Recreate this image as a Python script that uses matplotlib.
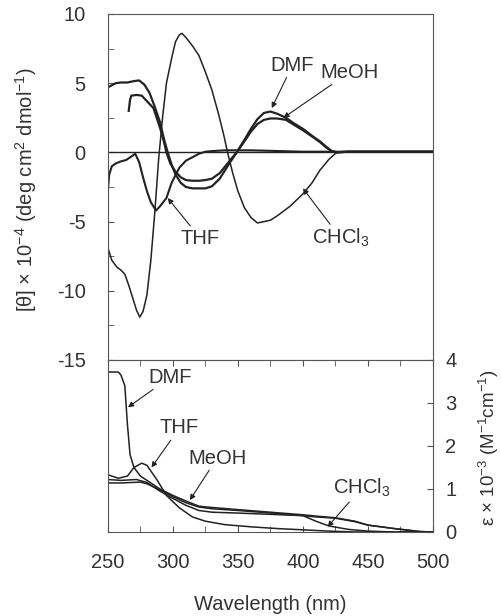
import matplotlib.pyplot as plt
from matplotlib.ticker import MultipleLocator

plt.rcParams['font.family'] = ['Liberation Sans', 'DejaVu Sans']
plt.rcParams['mathtext.default'] = 'regular'
plt.rcParams['axes.unicode_minus'] = False

# CD spectra, [theta] x 10^-4
wl_meoh = [250, 253, 256, 260, 265, 270, 274, 278, 282, 286, 290, 293, 296, 299, 302, 306, 310, 315,
           320, 325, 330, 336, 342, 349, 355, 360, 365, 370, 375, 380, 387, 393, 400, 407, 413, 418,
           422, 426, 435, 450, 500]
cd_meoh = [4.7, 4.85, 5.0, 5.05, 5.05, 5.15, 5.2, 4.9, 4.3, 3.3, 2.2, 1.0, 0.0, -0.9, -1.6, -2.2, -2.5, -2.6,
           -2.6, -2.6, -2.45, -1.9, -1.0, 0.0, 0.8, 1.5, 2.05, 2.35, 2.45, 2.45, 2.35, 2.0, 1.6, 1.15, 0.75, 0.35,
           0.1, 0.0, 0.05, 0.05, 0.05]

wl_dmf = [266, 267, 268, 272, 276, 280, 285, 290, 293, 295, 298, 302, 306, 310, 315, 320, 325, 330,
          336, 342, 349, 355, 360, 365, 370, 375, 380, 387, 393, 400, 407, 413, 418, 422, 426, 435, 450, 500]
cd_dmf = [3.0, 3.8, 4.1, 4.15, 4.1, 3.7, 3.2, 1.8, 0.8, 0.0, -0.8, -1.4, -1.8, -2.0, -2.05, -2.05, -2.0, -1.9,
          -1.5, -0.8, 0.0, 0.9, 1.7, 2.4, 2.85, 2.95, 2.8, 2.5, 2.1, 1.7, 1.2, 0.8, 0.4, 0.1, 0.0, 0.05, 0.05, 0.05]

wl_thf = [250, 251, 253, 256, 260, 264, 268, 271, 274, 277, 280, 283, 287, 290, 295, 299, 305, 310,
          315, 320, 325, 331, 340, 360, 380, 400, 500]
cd_thf = [-2.7, -1.6, -1.0, -0.8, -0.65, -0.55, -0.3, -0.1, -0.7, -1.8, -2.8, -3.6, -4.2, -3.9, -3.3, -2.2, -1.1, -0.6,
          -0.35, -0.1, 0.05, 0.1, 0.15, 0.15, 0.1, 0.05, 0.05]

wl_chcl3 = [250, 253, 257, 260, 263, 266, 269, 272, 274.5, 277, 280, 283, 286, 289, 292, 295, 299, 302,
            305, 307, 310, 315, 320, 325, 330, 335, 339, 342, 346, 350, 355, 360, 365, 370, 375, 380,
            390, 400, 407, 413, 420, 426, 430, 500]
cd_chcl3 = [-6.9, -7.8, -8.3, -8.5, -8.8, -9.6, -10.5, -11.4, -11.9, -11.5, -10.3, -7.8, -4.4, -0.5, 2.5, 5.0, 6.8, 8.0,
            8.5, 8.6, 8.3, 7.7, 7.0, 5.8, 4.5, 2.8, 1.3, 0.0, -1.5, -2.8, -4.0, -4.7, -5.1, -5.0, -4.9, -4.6,
            -3.9, -3.0, -2.2, -1.3, -0.5, 0.0, 0.05, 0.05]

# absorption spectra, epsilon x 10^-3
wl_abs_dmf = [250, 258, 260, 263, 265, 267, 270, 275, 280, 290, 300, 310, 320, 330, 350, 375, 400, 410,
              425, 440, 450, 470, 490, 500]
ab_dmf = [3.72, 3.72, 3.65, 3.4, 2.5, 1.8, 1.5, 1.3, 1.2, 1.0, 0.85, 0.72, 0.6, 0.57, 0.52, 0.46, 0.40, 0.37,
          0.33, 0.25, 0.16, 0.08, 0.01, 0.0]

wl_abs_meoh = [250, 260, 275, 280, 290, 300, 310, 320, 330, 350, 375, 400, 410, 425, 440, 450, 470, 490, 500]
ab_meoh = [1.14, 1.14, 1.16, 1.12, 0.98, 0.82, 0.68, 0.58, 0.54, 0.5, 0.44, 0.38, 0.35, 0.32, 0.24, 0.16, 0.08,
           0.01, 0.0]

wl_abs_chcl3 = [250, 260, 272, 280, 290, 300, 310, 320, 330, 350, 375, 400, 410, 420, 435, 450, 470, 500]
ab_chcl3 = [1.22, 1.2, 1.22, 1.15, 0.95, 0.78, 0.62, 0.5, 0.46, 0.44, 0.41, 0.38, 0.25, 0.14, 0.06, 0.02, 0.0, 0.0]

wl_abs_thf = [250, 258, 265, 270, 276, 280, 288, 295, 305, 315, 325, 340, 360, 380, 400, 420, 440, 500]
ab_thf = [1.33, 1.25, 1.3, 1.5, 1.6, 1.55, 1.2, 0.85, 0.56, 0.35, 0.25, 0.17, 0.12, 0.08, 0.05, 0.02, 0.0, 0.0]

line_c = '#222222'
spine_c = '#555555'
text_c = '#333333'
fs = 14.5

fig = plt.figure(figsize=(5.02, 6.16), dpi=100)
ax1 = fig.add_axes([0.215, 0.4156, 0.6474, 0.5617])
ax2 = fig.add_axes([0.215, 0.1364, 0.6474, 0.2792])

# top: CD
ax1.axhline(0, color=line_c, lw=1.0)
ax1.plot(wl_meoh, cd_meoh, color=line_c, lw=1.6)
ax1.plot(wl_dmf, cd_dmf, color=line_c, lw=1.6)
ax1.plot(wl_thf, cd_thf, color=line_c, lw=1.5)
ax1.plot(wl_chcl3, cd_chcl3, color=line_c, lw=1.1)
ax1.set_xlim(250, 500)
ax1.set_ylim(-15, 10)
ax1.yaxis.set_major_locator(MultipleLocator(5))
ax1.yaxis.set_minor_locator(MultipleLocator(2.5))
ax1.tick_params(axis='y', which='both', direction='in', length=4, color=spine_c,
                labelsize=fs, labelcolor=text_c, pad=16)
ax1.tick_params(axis='x', which='both', bottom=False, labelbottom=False)
for s in ax1.spines.values():
    s.set_color(spine_c)

arr = dict(arrowstyle='-|>', color=line_c, lw=0.8, mutation_scale=8, shrinkA=0, shrinkB=0)
ax1.annotate('DMF', xy=(376, 3.2), xytext=(392, 6.3), ha='center', va='center',
             fontsize=fs, color=text_c, arrowprops=arr)
ax1.annotate('MeOH', xy=(385, 2.5), xytext=(436, 5.8), ha='center', va='center',
             fontsize=fs, color=text_c, arrowprops=arr)
ax1.annotate('THF', xy=(296, -3.3), xytext=(321, -6.2), ha='center', va='center',
             fontsize=fs, color=text_c, arrowprops=arr)
ax1.annotate(r'CHCl$_3$', xy=(400, -2.6), xytext=(429, -6.2), ha='center', va='center',
             fontsize=fs, color=text_c, arrowprops=arr)

# bottom: absorption
ax2.plot(wl_abs_dmf, ab_dmf, color=line_c, lw=1.1)
ax2.plot(wl_abs_meoh, ab_meoh, color=line_c, lw=1.1)
ax2.plot(wl_abs_chcl3, ab_chcl3, color=line_c, lw=1.1)
ax2.plot(wl_abs_thf, ab_thf, color=line_c, lw=1.1)
ax2.set_xlim(250, 500)
ax2.set_ylim(0, 4)
ax2.xaxis.set_major_locator(MultipleLocator(50))
ax2.xaxis.set_minor_locator(MultipleLocator(25))
ax2.tick_params(axis='x', which='both', direction='in', length=4, top=True, bottom=True,
                color=spine_c, labelsize=fs, labelcolor=text_c, pad=15)
ax2.yaxis.tick_right()
ax2.yaxis.set_major_locator(MultipleLocator(1))
ax2.tick_params(axis='y', which='both', direction='in', length=4, left=False, right=True,
                color=spine_c, labelsize=fs, labelcolor=text_c, pad=9)
for s in ax2.spines.values():
    s.set_color(spine_c)

ax2.annotate('DMF', xy=(265.4, 2.9), xytext=(298, 3.6), ha='center', va='center',
             fontsize=fs, color=text_c, arrowprops=arr)
ax2.annotate('THF', xy=(283.5, 1.5), xytext=(305, 2.42), ha='center', va='center',
             fontsize=fs, color=text_c, arrowprops=arr)
ax2.annotate('MeOH', xy=(313, 0.74), xytext=(334, 1.72), ha='center', va='center',
             fontsize=fs, color=text_c, arrowprops=arr)
ax2.annotate(r'CHCl$_3$', xy=(419, 0.12), xytext=(445, 1.02), ha='center', va='center',
             fontsize=fs, color=text_c, arrowprops=arr)

fig.text(26 / 502, 1 - 190 / 616, r'[θ] × 10$^{-4}$ (deg cm$^{2}$ dmol$^{-1}$)', rotation=90,
         ha='center', va='center', fontsize=fs, color=text_c)
fig.text(489 / 502, 1 - 448 / 616, r'ε × 10$^{-3}$ (M$^{-1}$cm$^{-1}$)', rotation=90,
         ha='center', va='center', fontsize=13.5, color=text_c)
fig.text(0.5 * (108 + 433) / 502, 1 - 604 / 616, 'Wavelength (nm)', ha='center', va='center',
         fontsize=fs, color=text_c)

fig.savefig('out.png', dpi=100)
